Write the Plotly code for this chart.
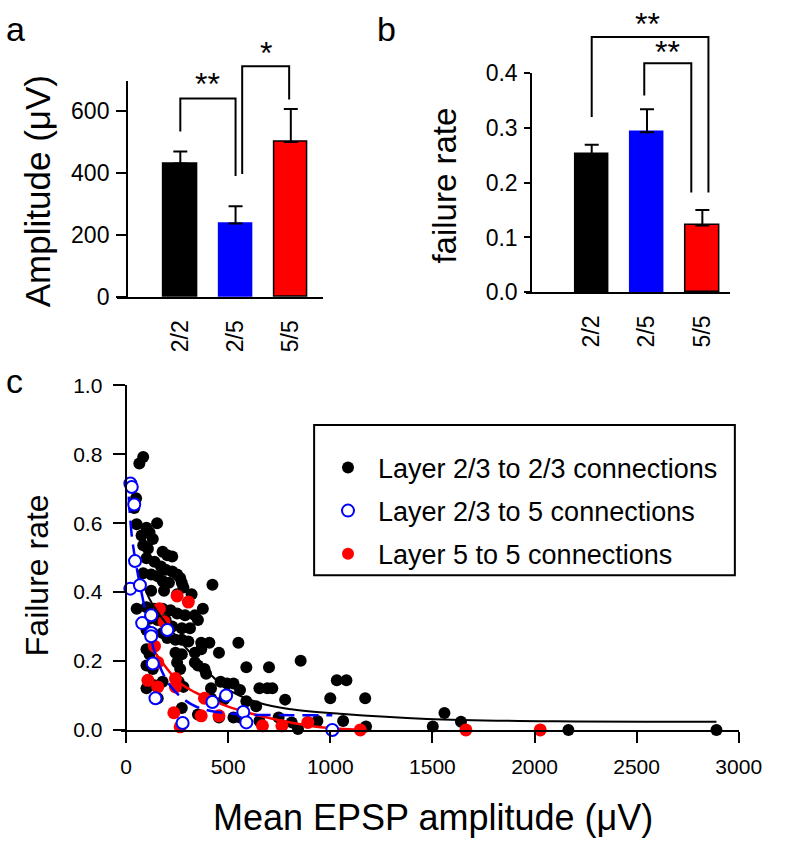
import plotly.graph_objects as go

W, H = 785, 853
FONT = "Liberation Sans, Arial, sans-serif"

# ---------------- data ----------------
categories = ["2/2", "2/5", "5/5"]
bar_colors = ["#000000", "#0000ff", "#ff0000"]
amp_mean = [431, 237, 500]
amp_err = [38, 56, 106]
fail_mean = [0.252, 0.292, 0.122]
fail_err = [0.017, 0.042, 0.028]

l23_x = [65, 84, 49, 40, 52, 100, 152, 76, 115, 131, 84, 107, 179, 202, 226, 100, 139, 171, 194, 226,
         250, 265, 84, 123, 155, 179, 210, 273, 281, 321, 423, 123, 186, 250, 52, 100, 139, 179, 218, 250,
         289, 337, 376, 115, 155, 194, 226, 273, 313, 352, 100, 131, 179, 202, 242, 273, 305, 368, 408, 550,
         100, 115, 242, 273, 337, 368, 455, 589, 700, 855, 100, 131, 250, 265, 337, 352, 384, 392, 100, 139,
         179, 258, 281, 416, 463, 495, 526, 558, 653, 692, 716, 155, 273, 416, 479, 589, 637, 779, 1000, 1032,
         1079, 352, 455, 526, 558, 653, 747, 811, 842, 937, 1063, 1171, 1559, 1640, 1502, 1175, 2166, 2891]
l23_y = [0.773, 0.792, 0.672, 0.644, 0.597, 0.587, 0.600, 0.564, 0.573, 0.554, 0.536, 0.526, 0.517, 0.507, 0.503, 0.498, 0.488, 0.474, 0.465, 0.460,
         0.451, 0.441, 0.455, 0.451, 0.446, 0.432, 0.427, 0.427, 0.413, 0.394, 0.421, 0.404, 0.404, 0.394, 0.352, 0.356, 0.352, 0.352, 0.347, 0.338,
         0.333, 0.333, 0.352, 0.323, 0.319, 0.319, 0.300, 0.295, 0.295, 0.319, 0.290, 0.281, 0.281, 0.267, 0.262, 0.262, 0.257, 0.253, 0.253, 0.253,
         0.234, 0.220, 0.224, 0.220, 0.224, 0.234, 0.224, 0.182, 0.182, 0.201, 0.187, 0.177, 0.196, 0.177, 0.196, 0.187, 0.177, 0.163, 0.121, 0.130,
         0.140, 0.140, 0.125, 0.121, 0.140, 0.135, 0.135, 0.116, 0.121, 0.121, 0.121, 0.092, 0.064, 0.092, 0.088, 0.083, 0.069, 0.088, 0.092, 0.144,
         0.144, 0.045, 0.036, 0.036, 0.036, 0.026, 0.036, 0.022, 0.003, 0.026, 0.026, 0.092, 0.049, 0.024, 0.010, 0.010, 0.000, 0.000]

l235_x = [21, 28, 40, 44, 21, 68, 79, 123, 123, 123, 202, 131, 144, 277, 423, 490, 574, 589, 1010]
l235_y = [0.715, 0.705, 0.654, 0.490, 0.410, 0.420, 0.310, 0.333, 0.281, 0.272, 0.290, 0.193, 0.092, 0.020, 0.081, 0.100, 0.052, 0.022, 0.000]

l55_x = [250, 305, 163, 186, 139, 155, 107, 155, 242, 242, 234, 265, 368, 384, 455, 668, 763, 890, 1147, 1664, 2028]
l55_y = [0.389, 0.371, 0.352, 0.314, 0.243, 0.196, 0.144, 0.125, 0.149, 0.125, 0.050, 0.009, 0.041, 0.092, 0.041, 0.012, 0.012, 0.022, 0.000, 0.000, 0.000]

fit23_x = [60, 115, 161, 336, 493, 654, 810, 1047, 1474, 2104, 2891]
fit23_y = [0.460, 0.380, 0.337, 0.210, 0.120, 0.078, 0.060, 0.047, 0.032, 0.025, 0.024]
fit55_x = [131, 258, 336, 493, 654, 810, 967, 1150]
fit55_y = [0.234, 0.139, 0.110, 0.069, 0.041, 0.021, 0.007, 0.000]
fit235_x = [13, 28, 52, 84, 115, 163, 226, 321, 416, 574, 810, 1010]
fit235_y = [0.677, 0.564, 0.470, 0.375, 0.281, 0.187, 0.121, 0.074, 0.055, 0.045, 0.043, 0.043]

amp_ticks = [0, 200, 400, 600]
fail_ticks = [0.0, 0.1, 0.2, 0.3, 0.4]
c_xticks = [0, 500, 1000, 1500, 2000, 2500, 3000]
c_yticks = [0.0, 0.2, 0.4, 0.6, 0.8, 1.0]

# significance brackets: (left x, right x, left foot, right foot, top, label, label x, label y)
brackets_a = [(0, 1, 534, 390, 640, "**", 0.5, 688),
              (1.12, 1.97, 397, 637, 744, "*", 1.55, 788)]
brackets_b = [(0, 2.11, 0.320, 0.182, 0.466, "**", 1.0, 0.490),
              (0.95, 1.8, 0.359, 0.182, 0.418, "**", 1.37, 0.438)]


def fx(px):
    return px / W


def fy(py):
    return 1 - py / H


# ---------------- geometry ----------------
a_ydom = [fy(293), fy(70)]
a_yrange = [0, 697]
b_ydom = [fy(288), fy(62)]
b_yrange = [0, 0.4]

fig = go.Figure()

# ---- panel a ----
fig.add_trace(go.Bar(
    x=[0, 1, 2], y=amp_mean, width=0.6,
    marker=dict(color=bar_colors, line=dict(color=["#000", "#0000ff", "#000"], width=1.5)),
    error_y=dict(type="data", array=amp_err, arrayminus=[0, 0, 0], symmetric=False,
                 color="#000", thickness=2, width=7),
    xaxis="x", yaxis="y", showlegend=False))

# ---- panel b ----
fig.add_trace(go.Bar(
    x=[0, 1, 2], y=fail_mean, width=0.6,
    marker=dict(color=bar_colors, line=dict(color=["#000", "#0000ff", "#000"], width=1.5)),
    error_y=dict(type="data", array=fail_err, arrayminus=[0, 0, 0], symmetric=False,
                 color="#000", thickness=2, width=7),
    xaxis="x2", yaxis="y2", showlegend=False))

# ---- panel c ----
fig.add_trace(go.Scatter(
    x=l23_x, y=l23_y, mode="markers", name="Layer 2/3 to 2/3 connections",
    marker=dict(color="#000", size=12), xaxis="x3", yaxis="y3",
    cliponaxis=False, legendrank=1, legendgroup="g1"))
fig.add_trace(go.Scatter(
    x=l55_x, y=l55_y, mode="markers", name="Layer 5 to 5 connections",
    marker=dict(color="#ff0000", size=13), xaxis="x3", yaxis="y3",
    cliponaxis=False, legendrank=3, legendgroup="g3"))
fig.add_trace(go.Scatter(
    x=fit23_x, y=fit23_y, mode="lines", line=dict(color="#000", width=2, shape="spline"),
    xaxis="x3", yaxis="y3", showlegend=False))
fig.add_trace(go.Scatter(
    x=fit55_x, y=fit55_y, mode="lines", line=dict(color="#ff0000", width=2.5, shape="spline"),
    xaxis="x3", yaxis="y3", showlegend=False))
fig.add_trace(go.Scatter(
    x=fit235_x, y=fit235_y, mode="lines",
    line=dict(color="#0000ff", width=2.5, shape="spline", dash="16px,8px"),
    xaxis="x3", yaxis="y3", showlegend=False))
fig.add_trace(go.Scatter(
    x=l235_x, y=l235_y, mode="markers", name="Layer 2/3 to 5 connections",
    marker=dict(color="#ffffff", size=12, line=dict(color="#0000ff", width=2)),
    xaxis="x3", yaxis="y3", cliponaxis=False, legendrank=2, legendgroup="g2"))

axis_common = dict(showline=True, linecolor="#000", linewidth=2, showgrid=False,
                   zeroline=False, tickcolor="#000", tickwidth=2,
                   tickfont=dict(family=FONT, size=23, color="#000"))

fig.update_layout(
    width=W, height=H, margin=dict(l=0, r=0, t=0, b=0),
    paper_bgcolor="white", plot_bgcolor="rgba(0,0,0,0)",
    font=dict(family=FONT, color="#000"),
    bargap=0,
    xaxis=dict(axis_common, domain=[fx(120), fx(332)], range=[-1.14, 2.58], anchor="y",
               ticks="", tickvals=[0, 1, 2], ticktext=categories, tickangle=-90,
               ticklabelstandoff=12),
    yaxis=dict(axis_common, domain=a_ydom, range=a_yrange, anchor="free", position=fx(130),
               ticks="outside", ticklen=10, tickvals=amp_ticks, ticklabelstandoff=2),
    xaxis2=dict(axis_common, domain=[fx(542), fx(752)], range=[-1.18, 2.5], anchor="y2",
                ticks="", tickvals=[0, 1, 2], ticktext=categories, tickangle=-90,
                ticklabelstandoff=12),
    yaxis2=dict(axis_common, domain=b_ydom, range=b_yrange, anchor="free", position=fx(547),
                ticks="outside", ticklen=6, tickvals=fail_ticks, tickformat=".1f",
                ticklabelstandoff=2),
    xaxis3=dict(axis_common, domain=[fx(124), fx(761)], range=[-23.7, 3000], anchor="y3",
                ticks="outside", ticklen=11, tickvals=c_xticks, ticklabelstandoff=6,
                tickfont=dict(family=FONT, size=21, color="#000")),
    yaxis3=dict(axis_common, domain=[fy(739.5), fy(384)], range=[0, 1], anchor="free",
                position=fx(128.5), ticks="outside", ticklen=12, tickvals=c_yticks,
                tickformat=".1f", ticklabelstandoff=6,
                tickfont=dict(family=FONT, size=21, color="#000")),
    legend=dict(x=fx(327), y=fy(444), xanchor="left", yanchor="top",
                bgcolor="rgba(0,0,0,0)", borderwidth=0, traceorder="grouped",
                tracegroupgap=5, itemsizing="constant", itemwidth=50,
                font=dict(family=FONT, size=27, color="#000")),
)

# legend box
fig.add_shape(type="rect", xref="paper", yref="paper", x0=fx(323), x1=fx(757),
              y0=fy(580), y1=fy(425), line=dict(color="#000", width=2))


def to_paper(v, dom, rng):
    return dom[0] + (v - rng[0]) / (rng[1] - rng[0]) * (dom[1] - dom[0])


def add_brackets(brs, xref, dom, rng, star_size):
    for (x0, x1, yl, yr, yt, lab, lx, ly) in brs:
        pts = [(x0, yl), (x0, yt), (x1, yt), (x1, yr)]
        path = "M " + " L ".join(f"{px},{to_paper(py, dom, rng)}" for px, py in pts)
        fig.add_shape(type="path", xref=xref, yref="paper", path=path,
                      line=dict(color="#000", width=2))
        fig.add_annotation(x=lx, y=to_paper(ly, dom, rng), xref=xref, yref="paper",
                           text=lab, showarrow=False, yanchor="middle",
                           font=dict(family=FONT, size=star_size, color="#000"))


add_brackets(brackets_a, "x", a_ydom, a_yrange, 32)
add_brackets(brackets_b, "x2", b_ydom, b_yrange, 32)

# titles and panel letters
texts = [
    ("a", 15, 16, 0, 34), ("b", 398, 16, 0, 34), ("c", 14, 380, 0, 34),
    ("Amplitude (μV)", 38, 184, -90, 35),
    ("failure rate", 458, 178, -90, 33),
    ("Failure rate", 37, 580, -90, 32),
    ("Mean EPSP amplitude (μV)", 446, 830, 0, 36),
]
for t, x, y, ang, sz in texts:
    fig.add_annotation(x=fx(x), y=fy(y), xref="paper", yref="paper", text=t,
                       showarrow=False, textangle=ang, xanchor="center", yanchor="middle",
                       font=dict(family=FONT, size=sz, color="#000"))

page_fix = (
    "var s='margin:0;padding:0;overflow:hidden;width:785px;height:853px;';"
    "document.documentElement.style.cssText=s;document.body.style.cssText=s;"
    "var d=document.querySelector('.plotly-graph-div');"
    "d.style.position='absolute';d.style.left='0px';d.style.top='0px';"
)
fig.write_html("out.html", config={"displayModeBar": False}, post_script=page_fix)
